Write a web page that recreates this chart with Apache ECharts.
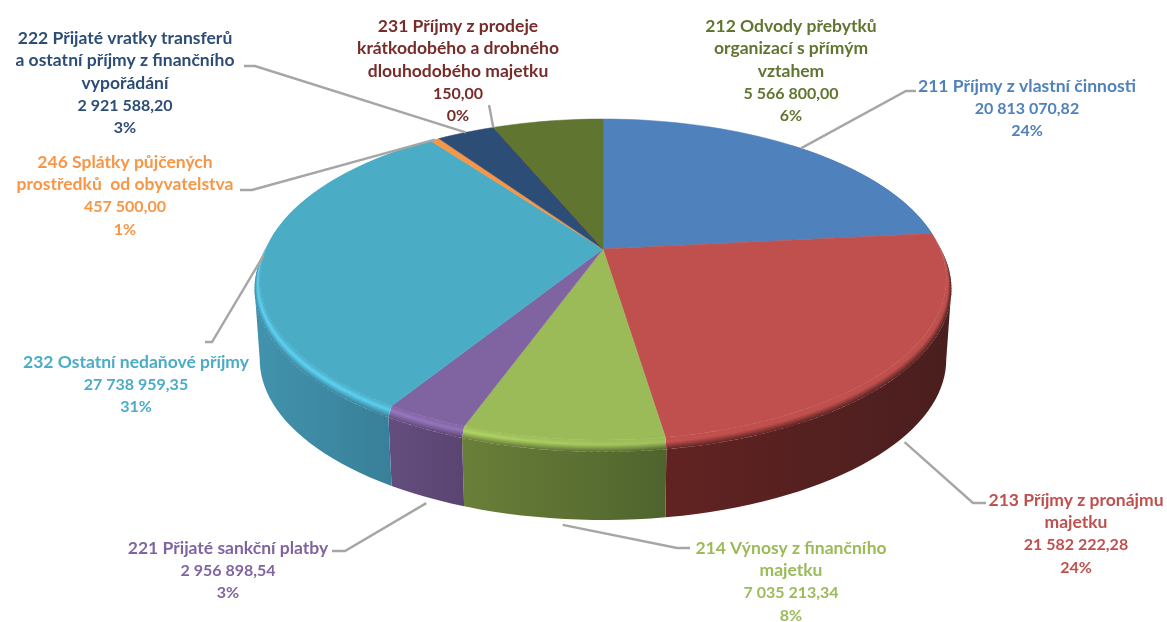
<!DOCTYPE html>
<html>
<head>
<meta charset="utf-8">
<style>
	html, body { margin: 0; padding: 0; background: #fff; }
	#chart { width: 1167px; height: 622px; }
</style>
<script src="https://cdn.jsdelivr.net/npm/echarts@6/dist/echarts.min.js"></script>
</head>
<body>
<div id="chart"></div>
<script>
// data, clockwise from 12 o'clock
const names = [
	"211 Příjmy z vlastní činnosti",
	"213 Příjmy z pronájmu\nmajetku",
	"214 Výnosy z finančního\nmajetku",
	"221 Přijaté sankční platby",
	"232 Ostatní nedaňové příjmy",
	"246 Splátky půjčených\nprostředků  od obyvatelstva",
	"222 Přijaté vratky transferů\na ostatní příjmy z finančního\nvypořádání",
	"231 Příjmy z prodeje\nkrátkodobého a drobného\ndlouhodobého majetku",
	"212 Odvody přebytků\norganizací s přímým\nvztahem",
];
const values = [20813070.82, 21582222.28, 7035213.34, 2956898.54, 27738959.35, 457500.0, 2921588.2, 150.0, 5566800.0];
const percents = [24, 24, 8, 3, 31, 1, 3, 0, 6];

// colours
const topColors = ["#4f81bd", "#c0504d", "#9bbb59", "#8064a2", "#4bacc6", "#f79646", "#2c4d75", "#772c2a", "#5f7530"];
const wallRight = ["#3a5f8c", "#4a1e1e", "#4f642d", "#5a4471", "#397f99", "#b06a30", "#1f3753", "#4f1d1c", "#43531f"];
const wallLeft = ["#3a5f8c", "#612322", "#6a7f38", "#634e7e", "#4193ad", "#b06a30", "#1f3753", "#4f1d1c", "#43531f"];

// label placement (text top centre) and leader lines
const labelX = [1027, 1076, 791, 228, 136, 125, 125, 458, 791];
const labelY = [75, 489, 537, 537, 351, 151, 27, 15, 15];
const leaderRing = [0, 86, 86, 86, 0, 0, 0, 0, null]; // drop below the top face where the leader starts
const leaderKnee = [
	[[906, 91], [916, 91]],
	[[973, 503], [986, 503]],
	[[677, 548], [690, 548]],
	[[345, 551], [332, 551]],
	[[212, 342], [205, 342]],
	[[252, 190], [240, 190]],
	[[255, 66], [244, 66]],
	[[489, 105]],
	null,
];

// pie projection
const CX = 603, CY = 249, R = 337, RK = 154.7, Q = 0.19;
const BEVEL_R = 1.015, BEVEL_DY = 9;
const BOTTOM_DY = 80;
const STEP = 2;
const RIM_STEP = 1;
const LINE_H = 22.5;
// the wall turns away from the viewer outside this range
const FRONT_FROM = (Math.acos(-Q) * 180) / Math.PI;
const FRONT_TO = 360 - FRONT_FROM;

function ring(deg, r, dy) {
	const a = (deg * Math.PI) / 180;
	const f = 1 / (1 + Q * Math.cos(a));
	return [CX + r * R * Math.sin(a) * f, CY + dy - r * RK * Math.cos(a) * f];
}

function hex(c) {
	return [1, 3, 5].map((i) => parseInt(c.substr(i, 2), 16));
}
function mix(c1, c2, t) {
	const a = hex(c1), b = hex(c2);
	return "rgb(" + a.map((v, i) => Math.round(v + (b[i] - v) * t)).join(",") + ")";
}
function lit(c, h) {
	const rgb = hex(c).map((v) => Math.min(255, Math.round(v * (1 + 0.22 * h))));
	return "rgb(" + rgb.join(",") + ")";
}

const total = values.reduce((a, b) => a + b, 0);
let sum = 0;
const startAngle = values.map((v) => {
	const s = (sum / total) * 360;
	sum += v;
	return s;
});

function money(v) {
	const parts = v.toFixed(2).split(".");
	return parts[0].replace(/\B(?=(\d{3})+$)/g, " ") + "," + parts[1];
}

function textEl(x, y, text, fill, font) {
	return {
		type: "text",
		z2: 5,
		style: { x: x, y: y, text: text, fill: fill, font: font, lineHeight: LINE_H, align: "center", verticalAlign: "top" },
	};
}

// end point of a gradient that runs square to the rim, so neighbouring strips line up
function acrossRim(in0, in1, out0) {
	const tx = in1[0] - in0[0], ty = in1[1] - in0[1];
	const vx = out0[0] - in0[0], vy = out0[1] - in0[1];
	const k = (vx * tx + vy * ty) / (tx * tx + ty * ty || 1);
	return [in0[0] + vx - k * tx, in0[1] + vy - k * ty];
}

function renderSlice(params, api) {
	const i = params.dataIndex;
	const a0 = startAngle[i];
	const a1 = a0 + (api.value(0) / total) * 360;
	const children = [];

	// top face
	const top = [[CX, CY]];
	for (let a = a0; a < a1; a += STEP) top.push(ring(a, 1, 0));
	top.push(ring(a1, 1, 0));
	children.push({
		type: "polygon",
		z2: 3,
		shape: { points: top },
		style: { fill: topColors[i], stroke: topColors[i], lineWidth: 0.5 },
	});

	// side wall, only the part facing the viewer
	const w0 = Math.max(a0, FRONT_FROM), w1 = Math.min(a1, FRONT_TO);
	if (w1 > w0) {
		const upper = [], lower = [];
		for (let a = w0; a < w1; a += STEP) {
			upper.push(ring(a, BEVEL_R, BEVEL_DY));
			lower.push(ring(a, 1, BOTTOM_DY));
		}
		upper.push(ring(w1, BEVEL_R, BEVEL_DY));
		lower.push(ring(w1, 1, BOTTOM_DY));
		children.push({
			type: "polygon",
			z2: 1,
			shape: { points: upper.concat(lower.reverse()) },
			style: {
				fill: new echarts.graphic.LinearGradient(0, 0, 1, 0, [
					{ offset: 0, color: wallLeft[i] },
					{ offset: 1, color: wallRight[i] },
				]),
			},
		});
	}

	// rounded rim, thin overlapping strips so the shading follows the angle
	const from = Math.max(a0, 40), to = Math.min(a1, 320);
	for (let a = from; a < to; a += RIM_STEP) {
		const b = Math.min(a + RIM_STEP, to);
		const back = Math.max(a - 0.5, from);
		const t = a1 > a0 ? (a - a0) / (a1 - a0) : 0;
		const wall = mix(wallRight[i], wallLeft[i], t);
		const h = Math.max(0, Math.min(1, (a - 165) / 55));
		const in0 = ring(back, 1, 0), in1 = ring(b, 1, 0);
		const out0 = ring(back, BEVEL_R, BEVEL_DY), out1 = ring(b, BEVEL_R, BEVEL_DY);
		const end = acrossRim(in0, in1, out0);
		children.push({
			type: "polygon",
			z2: 2,
			shape: { points: [in0, in1, out1, out0] },
			style: {
				fill: new echarts.graphic.LinearGradient(in0[0], in0[1], end[0], end[1], [
					{ offset: 0, color: topColors[i] },
					{ offset: 0.4, color: lit(topColors[i], h) },
					{ offset: 1, color: wall },
				], true),
			},
		});
	}

	// leader line
	if (leaderKnee[i]) {
		children.push({
			type: "polyline",
			z2: 4,
			shape: { points: [ring((a0 + a1) / 2, 1, leaderRing[i])].concat(leaderKnee[i]) },
			style: { fill: null, stroke: "#a6a6a6", lineWidth: 2.4 },
		});
	}

	// label: name lines are set a little larger, the digits of this font run wide
	const nameLines = names[i].split("\n").length;
	children.push(textEl(labelX[i], labelY[i], names[i], topColors[i], "bold 17.5px Lato"));
	children.push(textEl(
		labelX[i],
		labelY[i] + nameLines * LINE_H,
		money(api.value(0)) + "\n" + percents[i] + "%",
		topColors[i],
		"bold 16px Lato"
	));

	return { type: "group", children: children };
}

const myChart = echarts.init(document.getElementById("chart"));
myChart.setOption({
	animation: false,
	backgroundColor: "#ffffff",
	series: [
		{
			type: "custom",
			coordinateSystem: "none",
			silent: true,
			renderItem: renderSlice,
			data: values.map((v) => [v]),
		},
	],
});
</script>
</body>
</html>
